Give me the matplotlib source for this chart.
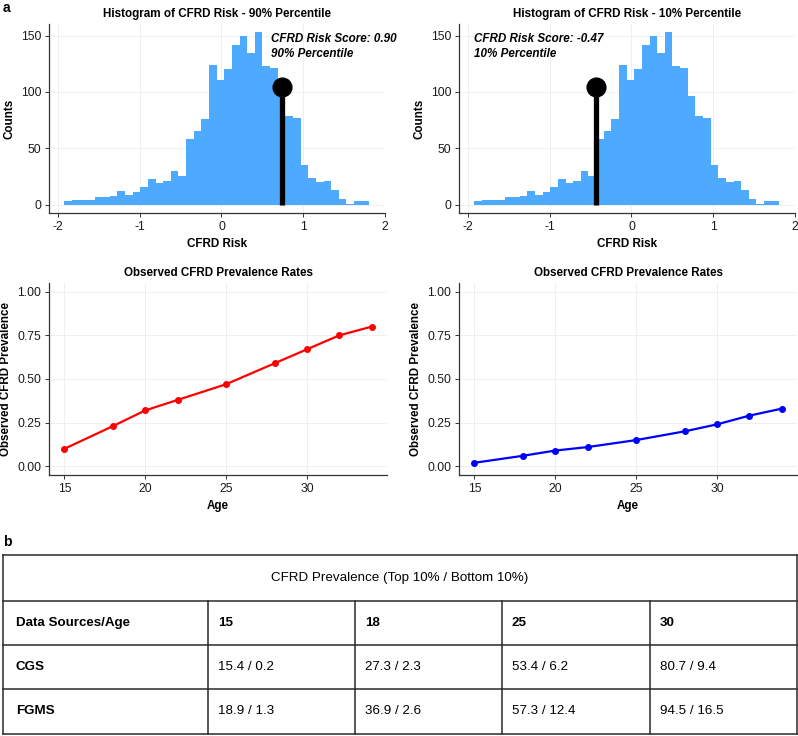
import numpy as np
import matplotlib
matplotlib.use("Agg")
import matplotlib.pyplot as plt
from matplotlib.ticker import FormatStrFormatter

plt.rcParams['font.family'] = ['Liberation Sans', 'DejaVu Sans']
plt.rcParams['axes.unicode_minus'] = False

# ---------------- data ----------------
bin_start = -1.927
bin_width = 0.0934
hist_counts = [3, 4, 4, 4, 7, 7, 8, 12, 9, 11, 16, 23, 19, 21, 30, 25, 58, 65, 76, 124,
               111, 120, 142, 150, 135, 153, 123, 121, 96, 79, 77, 35, 24, 20, 21, 13, 5, 1, 3, 3]

marker_x_top = 0.74      # 90% percentile marker
marker_x_bottom = -0.44  # 10% percentile marker
marker_height = 104
label_top = "CFRD Risk Score: 0.90\n90% Percentile"
label_bottom = "CFRD Risk Score: -0.47\n10% Percentile"

ages = [15, 18, 20, 22, 25, 28, 30, 32, 34]
prev_top = [0.10, 0.23, 0.32, 0.38, 0.47, 0.59, 0.67, 0.75, 0.80]
prev_bottom = [0.02, 0.06, 0.09, 0.11, 0.15, 0.20, 0.24, 0.29, 0.33]

table_title = "CFRD Prevalence (Top 10% / Bottom 10%)"
table_header = ["Data Sources/Age", "15", "18", "25", "30"]
table_sources = ["CGS", "FGMS"]
table_cgs = ["15.4 / 0.2", "27.3 / 2.3", "53.4 / 6.2", "80.7 / 9.4"]
table_fgms = ["18.9 / 1.3", "36.9 / 2.6", "57.3 / 12.4", "94.5 / 16.5"]

# ---------------- figure ----------------
W, H = 798, 736
fig = plt.figure(figsize=(W / 100, H / 100), dpi=100)

def px_axes(x0, y0, x1, y1):
    return fig.add_axes([x0 / W, 1 - y1 / H, (x1 - x0) / W, (y1 - y0) / H])

FS = 8.4
BAR = "#4DAAFF"
AXC = "#333333"

def style(ax):
    for s in ["top", "right"]:
        ax.spines[s].set_visible(False)
    for s in ["left", "bottom"]:
        ax.spines[s].set_color(AXC)
        ax.spines[s].set_linewidth(0.9)
    ax.tick_params(axis="both", direction="out", length=3, width=0.7, color=AXC,
                   labelsize=FS + 0.3, labelcolor="#1a1a1a", pad=2.5)
    ax.grid(True, color="#ededed", linewidth=0.6)
    ax.set_axisbelow(True)

edges = bin_start + bin_width * np.arange(len(hist_counts) + 1)

def hist_panel(ax, mx, label, lx, title):
    style(ax)
    ax.stairs(hist_counts, edges, fill=True, color=BAR, linewidth=0)
    ax.plot([mx, mx], [0, marker_height], color="black", lw=3.8, solid_capstyle="butt", zorder=3)
    ax.plot([mx], [marker_height], "o", color="black", ms=13.5, zorder=4)
    ax.text(lx, 140, label, fontsize=FS, fontweight="bold", fontstyle="italic",
            ha="left", va="center", linespacing=1.35)
    ax.set_xlim(-2.11, 2.0)
    ax.set_ylim(-7.65, 160.65)
    ax.set_xticks([-2, -1, 0, 1, 2])
    ax.set_yticks([0, 50, 100, 150])
    ax.set_title(title, fontsize=FS, fontweight="bold", pad=5)
    ax.set_xlabel("CFRD Risk", fontsize=FS, fontweight="bold", labelpad=4)
    ax.set_ylabel("Counts", fontsize=FS, fontweight="bold", labelpad=4)

ax1 = px_axes(49, 23.6, 385, 213.3)
hist_panel(ax1, marker_x_top, label_top, 0.6, "Histogram of CFRD Risk - 90% Percentile")
ax2 = px_axes(459, 23.6, 795, 213.3)
hist_panel(ax2, marker_x_bottom, label_bottom, -1.93, "Histogram of CFRD Risk - 10% Percentile")

def line_panel(ax, vals, color):
    style(ax)
    ax.plot(ages, vals, color=color, lw=1.6, marker="o", ms=4, zorder=3)
    ax.set_xlim(14.05, 34.95)
    ax.set_ylim(-0.05, 1.05)
    ax.set_xticks([15, 20, 25, 30])
    ax.set_yticks([0, 0.25, 0.5, 0.75, 1.0])
    ax.yaxis.set_major_formatter(FormatStrFormatter("%.2f"))
    ax.set_title("Observed CFRD Prevalence Rates", fontsize=FS, fontweight="bold", pad=5)
    ax.set_xlabel("Age", fontsize=FS, fontweight="bold", labelpad=4)
    ax.set_ylabel("Observed CFRD Prevalence", fontsize=FS, fontweight="bold", labelpad=4)

ax3 = px_axes(49, 283, 387, 475)
line_panel(ax3, prev_top, "#FF0000")
ax4 = px_axes(459, 283, 797, 475)
line_panel(ax4, prev_bottom, "#0000FF")

fig.text(3 / W, 1 - 8 / H, "a", fontsize=10, fontweight="bold", va="center", ha="left")
fig.text(3 / W, 1 - 542 / H, "b", fontsize=10, fontweight="bold", va="center", ha="left")

# ---------------- table ----------------
axt = fig.add_axes([0, 0, 1, 1])
axt.set_xlim(0, W)
axt.set_ylim(H, 0)
axt.axis("off")
col_x = [3, 208, 355, 502, 650, 797]
row_y = [555, 601, 645, 689, 734]
LC = "#2a2a2a"
LW = 1.1
for y in row_y:
    axt.plot([col_x[0], col_x[-1]], [y, y], color=LC, lw=LW, solid_capstyle="projecting")
for x in [col_x[0], col_x[-1]]:
    axt.plot([x, x], [row_y[0], row_y[-1]], color=LC, lw=LW)
for x in col_x[1:-1]:
    axt.plot([x, x], [row_y[1], row_y[-1]], color=LC, lw=LW)

TFS = 9.6
axt.text((col_x[0] + col_x[-1]) / 2, (row_y[0] + row_y[1]) / 2, table_title,
         fontsize=TFS, ha="center", va="center")
for j, h in enumerate(table_header):
    pad = 13 if j == 0 else 10
    axt.text(col_x[j] + pad, (row_y[1] + row_y[2]) / 2, h, fontsize=TFS,
             fontweight="bold", ha="left", va="center")
for i, (src, vals) in enumerate(zip(table_sources, [table_cgs, table_fgms])):
    yc = (row_y[2 + i] + row_y[3 + i]) / 2
    axt.text(col_x[0] + 13, yc, src, fontsize=TFS, fontweight="bold", ha="left", va="center")
    for j, v in enumerate(vals):
        axt.text(col_x[j + 1] + 10, yc, v, fontsize=TFS, ha="left", va="center")

fig.savefig("out.png", dpi=100)
